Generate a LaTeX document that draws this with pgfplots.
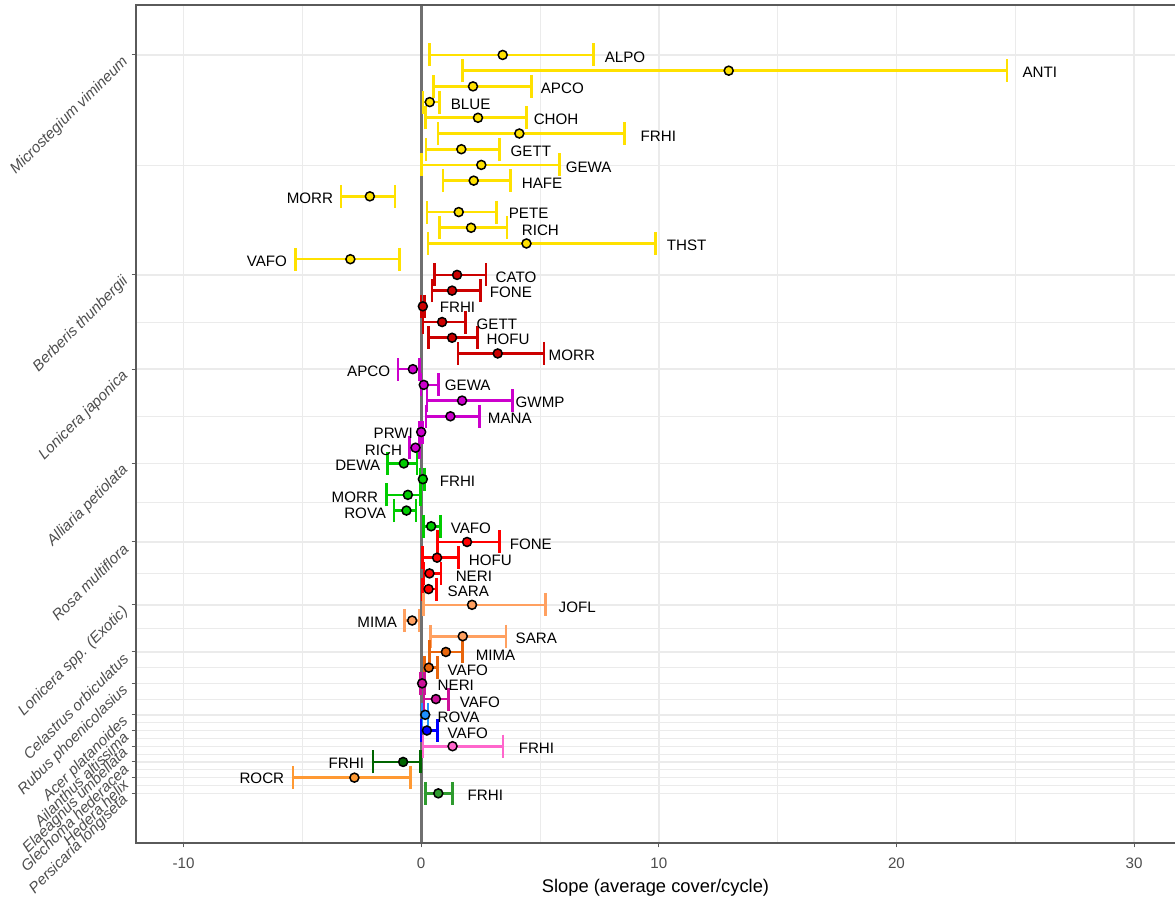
\documentclass[border=0pt]{standalone}
\usepackage{pgfplots}
\pgfplotsset{compat=1.18}
\usepackage{pgfplotstable}
\usepackage{fontspec}
\setmainfont{Liberation Sans}

\definecolor{cMic}{HTML}{FFE100}
\definecolor{cBer}{HTML}{CC0000}
\definecolor{cLj}{HTML}{CC00CC}
\definecolor{cAll}{HTML}{00CC00}
\definecolor{cRos}{HTML}{FF0000}
\definecolor{cLsp}{HTML}{FFA060}
\definecolor{cCel}{HTML}{E8650C}
\definecolor{cRub}{HTML}{CC1199}
\definecolor{cAce}{HTML}{1E90FF}
\definecolor{cAil}{HTML}{0000FF}
\definecolor{cEla}{HTML}{FF66CC}
\definecolor{cGle}{HTML}{006400}
\definecolor{cHed}{HTML}{FF9933}
\definecolor{cPer}{HTML}{2E9B2E}
\definecolor{zline}{HTML}{707070}
\definecolor{border}{HTML}{5A5A5A}
\definecolor{gridc}{HTML}{EBEBEB}
\definecolor{ticktext}{HTML}{4D4D4D}

% row  slope  lower  upper
\pgfplotstableread{
y x lo hi
1 3.43 0.36 7.26
2 12.94 1.75 24.65
3 2.18 0.53 4.64
4 0.36 0.08 0.77
5 2.39 0.18 4.43
6 4.13 0.70 8.56
7 1.69 0.21 3.29
8 2.53 0.01 5.83
9 2.21 0.91 3.75
10 -2.16 -3.37 -1.11
11 1.58 0.25 3.17
12 2.10 0.77 3.61
13 4.43 0.29 9.85
14 -2.98 -5.29 -0.91
}\tMic
\pgfplotstableread{
y x lo hi
15 1.51 0.56 2.73
16 1.30 0.46 2.49
17 0.07 0.00 0.15
18 0.88 0.08 1.86
19 1.30 0.32 2.38
20 3.22 1.55 5.16
}\tBer
\pgfplotstableread{
y x lo hi
21 -0.35 -0.97 -0.06
22 0.11 0.00 0.74
23 1.72 0.25 3.85
24 1.23 0.21 2.46
25 0.00 -0.08 0.05
26 -0.24 -0.48 -0.06
}\tLj
\pgfplotstableread{
y x lo hi
27 -0.73 -1.41 -0.18
28 0.07 -0.05 0.14
29 -0.56 -1.47 -0.02
30 -0.62 -1.15 -0.22
31 0.42 0.09 0.81
}\tAll
\pgfplotstableread{
y x lo hi
32 1.93 0.68 3.30
33 0.67 0.06 1.58
34 0.35 0.12 0.84
35 0.31 0.06 0.65
}\tRos
\pgfplotstableread{
y x lo hi
36 2.14 0.11 5.23
37 -0.38 -0.69 -0.10
38 1.75 0.39 3.57
}\tLsp
\pgfplotstableread{
y x lo hi
39 1.04 0.35 1.73
40 0.32 0.13 0.69
}\tCel
\pgfplotstableread{
y x lo hi
41 0.04 -0.03 0.14
42 0.62 0.12 1.16
}\tRub
\pgfplotstableread{
y x lo hi
43 0.17 0.04 0.29
}\tAce
\pgfplotstableread{
y x lo hi
44 0.24 0.00 0.69
}\tAil
\pgfplotstableread{
y x lo hi
45 1.32 0.07 3.45
}\tEla
\pgfplotstableread{
y x lo hi
46 -0.76 -2.03 -0.03
}\tGle
\pgfplotstableread{
y x lo hi
47 -2.81 -5.40 -0.45
}\tHed
\pgfplotstableread{
y x lo hi
48 0.72 0.18 1.31
}\tPer

\newcommand{\bars}[2]{%
  \addplot[only marks, mark=none, forget plot,
    error bars/.cd, x dir=both, x explicit,
    error bar style={draw=#2, line width=1.3bp},
    error mark options={draw=#2, line width=1.3bp, mark size=5.75bp, rotate=90}]
    table[x=x, y expr=-\thisrow{y},
      x error plus expr=\thisrow{hi}-\thisrow{x},
      x error minus expr=\thisrow{x}-\thisrow{lo}] {#1};}
\newcommand{\pts}[2]{%
  \addplot[only marks, mark=*, mark size=2.25bp, forget plot,
    mark options={fill=#2, draw=black, line width=0.75bp}]
    table[x=x, y expr=-\thisrow{y}] {#1};}

\tikzset{lab/.style={font=\fontsize{7.6}{9}\selectfont, inner sep=0pt, text=black}}

\begin{document}
\begin{tikzpicture}
\begin{axis}[
  width=519.5bp, height=419bp, scale only axis,
  xmin=-12, xmax=31.72, ymin=-51.16, ymax=2.18,
  clip=false,
  axis line style={draw=none},
  xtick={-10,0,10,20,30}, xticklabels={-10,0,10,20,30},
  minor xtick={-5,5,15,25},
  ytick={-1,-15,-21,-27,-32,-36,-39,-41,-43,-44,-45,-46,-47,-48},
  yticklabels={Microstegium vimineum, Berberis thunbergii, Lonicera japonica, Alliaria petiolata, Rosa multiflora, Lonicera spp. (Exotic), Celastrus orbiculatus, Rubus phoenicolasius, Acer platanoides, Ailanthus altissima, Elaeagnus umbellata, Glechoma hederacea, Hedera helix, Persicaria longiseta},
  minor ytick={-8,-18,-24,-29.5,-34,-37.5,-40,-42,-43.5,-44.5,-45.5,-46.5,-47.5},
  xmajorgrids, xminorgrids, ymajorgrids, yminorgrids,
  major grid style={color=gridc, line width=0.7bp},
  minor grid style={color=gridc, line width=0.4bp},
  tick align=outside, xtick pos=left, ytick pos=left,
  major tick length=2.2bp, minor tick length=0pt,
  tick style={color=border, line width=0.5bp},
  xticklabel style={font=\fontsize{7.6}{9}\selectfont, text=ticktext, yshift=-1.5bp},
  yticklabel style={font=\fontsize{7.6}{9}\selectfont\itshape, text=ticktext, rotate=45, anchor=east, inner sep=1bp, xshift=-2.5bp, yshift=0.5bp},
  xlabel={Slope (average cover/cycle)},
  xlabel style={font=\fontsize{9.2}{11}\selectfont, at={(axis description cs:0.5,0)}, anchor=center, yshift=-22.5bp},
]
\addplot[color=zline, line width=1.5bp, forget plot] coordinates {(0,-51.16) (0,2.18)};

\bars{\tMic}{cMic}
\bars{\tBer}{cBer}
\bars{\tLj}{cLj}
\bars{\tAll}{cAll}
\bars{\tRos}{cRos}
\bars{\tLsp}{cLsp}
\bars{\tCel}{cCel}
\bars{\tRub}{cRub}
\bars{\tAce}{cAce}
\bars{\tAil}{cAil}
\bars{\tEla}{cEla}
\bars{\tGle}{cGle}
\bars{\tHed}{cHed}
\bars{\tPer}{cPer}

\pts{\tMic}{cMic}
\pts{\tBer}{cBer}
\pts{\tLj}{cLj}
\pts{\tAll}{cAll}
\pts{\tRos}{cRos}
\pts{\tLsp}{cLsp}
\pts{\tCel}{cCel}
\pts{\tRub}{cRub}
\pts{\tAce}{cAce}
\pts{\tAil}{cAil}
\pts{\tEla}{cEla}
\pts{\tGle}{cGle}
\pts{\tHed}{cHed}
\pts{\tPer}{cPer}

% site labels
\node[lab, anchor=west] at (axis cs:7.71,-1.13) {ALPO};
\node[lab, anchor=west] at (axis cs:25.29,-2.08) {ANTI};
\node[lab, anchor=west] at (axis cs:5.02,-3.10) {APCO};
\node[lab, anchor=west] at (axis cs:1.23,-4.12) {BLUE};
\node[lab, anchor=west] at (axis cs:4.72,-5.07) {CHOH};
\node[lab, anchor=west] at (axis cs:9.22,-6.16) {FRHI};
\node[lab, anchor=west] at (axis cs:3.75,-7.11) {GETT};
\node[lab, anchor=west] at (axis cs:6.07,-8.13) {GEWA};
\node[lab, anchor=west] at (axis cs:4.22,-9.15) {HAFE};
\node[lab, anchor=east] at (axis cs:-3.69,-10.10) {MORR};
\node[lab, anchor=west] at (axis cs:3.67,-11.06) {PETE};
\node[lab, anchor=west] at (axis cs:4.22,-12.14) {RICH};
\node[lab, anchor=west] at (axis cs:10.32,-13.09) {THST};
\node[lab, anchor=east] at (axis cs:-5.63,-14.11) {VAFO};
\node[lab, anchor=west] at (axis cs:3.12,-15.13) {CATO};
\node[lab, anchor=west] at (axis cs:2.87,-16.09) {FONE};
\node[lab, anchor=west] at (axis cs:0.77,-17.04) {FRHI};
\node[lab, anchor=west] at (axis cs:2.32,-18.12) {GETT};
\node[lab, anchor=west] at (axis cs:2.74,-19.08) {HOFU};
\node[lab, anchor=west] at (axis cs:5.35,-20.10) {MORR};
\node[lab, anchor=east] at (axis cs:-1.29,-21.11) {APCO};
\node[lab, anchor=west] at (axis cs:0.98,-22.00) {GEWA};
\node[lab, anchor=west] at (axis cs:3.96,-23.09) {GWMP};
\node[lab, anchor=west] at (axis cs:2.79,-24.11) {MANA};
\node[lab, anchor=east] at (axis cs:-0.33,-25.06) {PRWI};
\node[lab, anchor=east] at (axis cs:-0.79,-26.14) {RICH};
\node[lab, anchor=east] at (axis cs:-1.71,-27.10) {DEWA};
\node[lab, anchor=west] at (axis cs:0.77,-28.12) {FRHI};
\node[lab, anchor=east] at (axis cs:-1.80,-29.13) {MORR};
\node[lab, anchor=east] at (axis cs:-1.46,-30.15) {ROVA};
\node[lab, anchor=west] at (axis cs:1.23,-31.11) {VAFO};
\node[lab, anchor=west] at (axis cs:3.71,-32.13) {FONE};
\node[lab, anchor=west] at (axis cs:1.99,-33.15) {HOFU};
\node[lab, anchor=west] at (axis cs:1.44,-34.16) {NERI};
\node[lab, anchor=west] at (axis cs:1.10,-35.12) {SARA};
\node[lab, anchor=west] at (axis cs:5.77,-36.14) {JOFL};
\node[lab, anchor=east] at (axis cs:-1.00,-37.09) {MIMA};
\node[lab, anchor=west] at (axis cs:3.96,-38.11) {SARA};
\node[lab, anchor=west] at (axis cs:2.28,-39.19) {MIMA};
\node[lab, anchor=west] at (axis cs:1.10,-40.14) {VAFO};
\node[lab, anchor=west] at (axis cs:0.68,-41.10) {NERI};
\node[lab, anchor=west] at (axis cs:1.61,-42.18) {VAFO};
\node[lab, anchor=west] at (axis cs:0.68,-43.14) {ROVA};
\node[lab, anchor=west] at (axis cs:1.10,-44.16) {VAFO};
\node[lab, anchor=west] at (axis cs:4.09,-45.11) {FRHI};
\node[lab, anchor=east] at (axis cs:-2.39,-46.07) {FRHI};
\node[lab, anchor=east] at (axis cs:-5.75,-47.02) {ROCR};
\node[lab, anchor=west] at (axis cs:1.94,-48.10) {FRHI};

\draw[border, line width=0.6bp] (rel axis cs:1,0) -- (rel axis cs:0,0) -- (rel axis cs:0,1) -- (rel axis cs:1,1);
\end{axis}
\pgfresetboundingbox
\path[use as bounding box] ([xshift=-68bp,yshift=-27bp]current axis.south west) rectangle ([yshift=2.5bp]current axis.north east);
\end{tikzpicture}
\end{document}
